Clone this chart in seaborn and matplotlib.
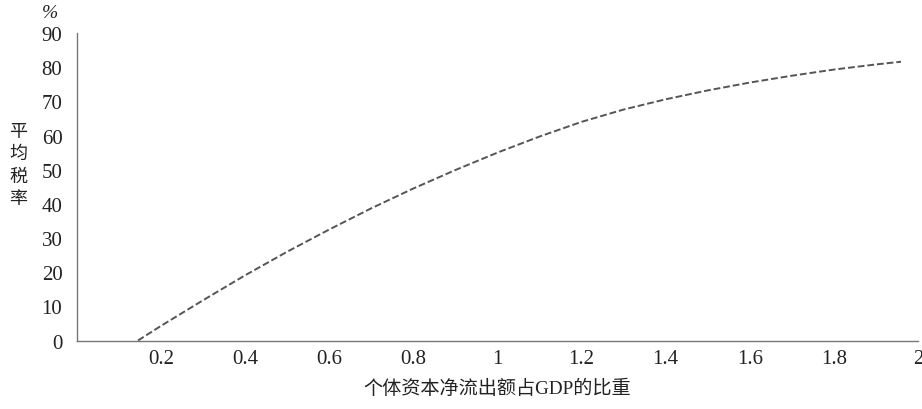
import matplotlib
matplotlib.use("Agg")
import matplotlib.pyplot as plt
import seaborn as sns
import pandas as pd

# values
net_outflow_share = [0.145, 0.2, 0.3, 0.4, 0.5, 0.6, 0.7, 0.8, 0.9, 1.0,
                     1.1, 1.2, 1.3, 1.4, 1.5, 1.6, 1.7, 1.8, 1.9, 1.96]
avg_tax_rate = [0.0, 4.3, 11.8, 19.1, 26.0, 32.5, 38.7, 44.5, 49.9, 55.0,
                59.7, 64.0, 67.6, 70.6, 73.2, 75.5, 77.5, 79.3, 80.8, 81.6]
x_ticks = [0.2, 0.4, 0.6, 0.8, 1.0, 1.2, 1.4, 1.6, 1.8, 2.0]
x_tick_labels = ["0.2", "0.4", "0.6", "0.8", "1", "1.2", "1.4", "1.6", "1.8", "2"]
y_ticks = list(range(0, 100, 10))

df = pd.DataFrame({"share": net_outflow_share, "rate": avg_tax_rate})

sns.set_style("white")
plt.rcParams["font.family"] = ["Liberation Serif", "Noto Sans CJK SC", "DejaVu Sans"]

fig = plt.figure(figsize=(9.22, 4.10), dpi=100)
ax = fig.add_axes([0.0835, 0.167, 0.912, 0.750])

sns.lineplot(data=df, x="share", y="rate", ax=ax, color="#555555",
             linestyle=(0, (3.5, 1.5)), linewidth=1.4)

ax.set_xlim(0, 2.0)
ax.set_ylim(0, 90)
ax.set_xticks(x_ticks)
ax.set_xticklabels(x_tick_labels)
ax.set_yticks(y_ticks)
ax.tick_params(axis="both", direction="in", length=5, width=0.9,
               color="#999999", labelsize=15, labelcolor="#222222")
ax.tick_params(axis="x", pad=6)
ax.tick_params(axis="y", pad=10.5)

for side in ["top", "right"]:
    ax.spines[side].set_visible(False)
for side in ["left", "bottom"]:
    ax.spines[side].set_color("#777777")
    ax.spines[side].set_linewidth(1.0)

ax.set_xlabel("个体资本净流出额占GDP的比重", fontsize=13.8, color="#222222", labelpad=8)
ax.set_ylabel("")
fig.text(0.054, 0.968, "%", fontsize=14, color="#222222", ha="center", va="center",
         style="italic")
fig.text(0.02, 0.595, "平\n均\n税\n率", fontsize=13, color="#222222",
         ha="center", va="center", linespacing=1.4)

fig.savefig("out.png", dpi=100)
